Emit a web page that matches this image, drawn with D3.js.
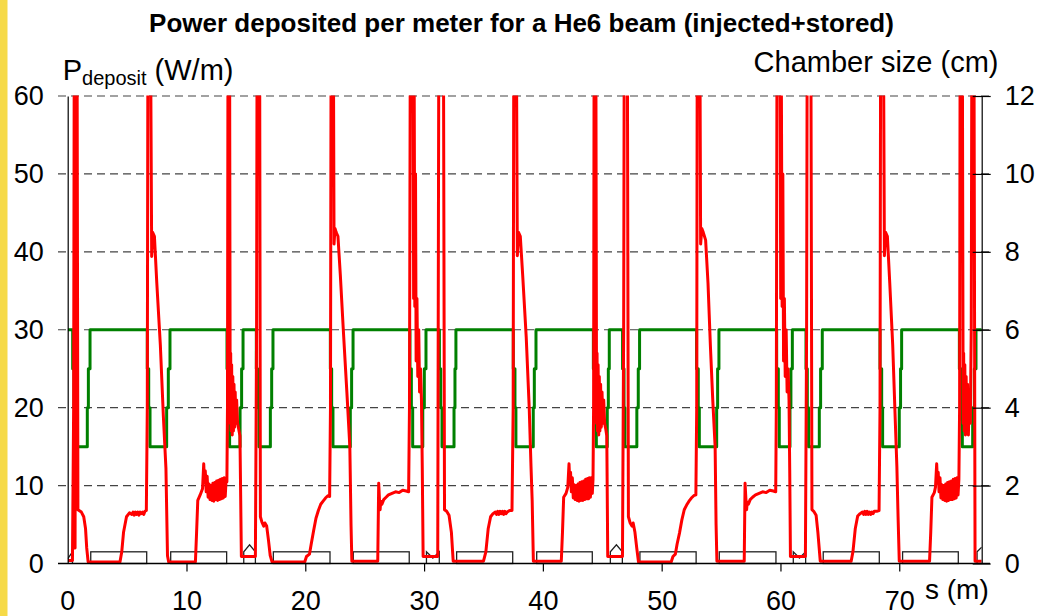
<!DOCTYPE html>
<html>
<head>
<meta charset="utf-8">
<script src="https://cdn.jsdelivr.net/npm/d3@7"></script>
<style>
body { margin: 0; background: #fff; }
svg { display: block; font-family: "Liberation Sans", Arial, sans-serif; }
</style>
</head>
<body>
<script>
// ticks
var xTicks = [0, 10, 20, 30, 40, 50, 60, 70];
var leftTicks = [0, 10, 20, 30, 40, 50, 60];
var rightTicks = [0, 2, 4, 6, 8, 10, 12];

// power deposited (s in m, W/m); >60 is off scale
var powerCell1 = [[0,0.4],[0.4,0.4],[0.5,20],[0.56,75],[0.62,2],[0.7,75],[0.78,75],[0.86,6.9],[1.15,6.6],[1.35,6.0],[1.5,4.5],[1.6,2],[1.72,0.2],
  [4.4,0.2],[4.55,1.5],[4.7,4],[4.95,6.0],[5.2,6.5],[5.4,6.3],[5.5,6.6],[5.6,6.2],[5.7,6.6],[5.8,6.3],[5.9,6.6],[6.0,6.2],[6.1,6.6],[6.2,6.4],[6.3,6.6],[6.4,6.3],[6.5,6.7],[6.62,6.8],
  [6.7,20],[6.76,75],[6.95,75],[7.07,39.4],[7.15,42.5],[7.3,42],[7.5,36],[7.8,28],[8.05,19],[8.27,12.2],[8.4,1],[8.5,0.2],
  [10.75,0.2],[10.85,4],[10.95,8.1],[11.15,8.8],[11.35,9.6],[11.45,12.8],[11.52,10.4],[11.58,11.9],[11.66,9.2],[11.74,11.2],[11.82,8.5],[11.9,10.2],[11.98,8.2],[12.06,10.0],[12.14,8.1],[12.22,10.3],[12.3,8.0],[12.38,10.4],[12.46,8.2],[12.54,10.6],[12.62,8.1],[12.7,10.7],[12.78,8.2],[12.86,10.8],[12.94,8.3],[13.02,10.9],[13.1,8.4],[13.18,11.0],[13.26,8.6],[13.34,10.9],[13.4,10.5],
  [13.45,20],[13.5,75],[13.62,75],[13.68,18],[13.72,27],[13.76,17],[13.8,25.5],[13.85,16.5],[13.9,24],[13.95,17],[14.0,23],[14.05,17.5],[14.1,22],[14.16,18],[14.22,21],[14.3,18],[14.4,17.2],[14.5,16.4],[14.62,0.9],
  [15.8,0.9],[15.9,30],[15.95,75],[16.15,75]];
var powerCell2 = [[16.22,6.0],[16.35,5.3],[16.5,4.8],[16.6,5.2],[16.75,4.8],[16.9,3],[17.05,1],[17.2,0.2],
  [19.95,0.2],[20.1,0.9],[20.35,1.2],[20.5,2.5],[20.7,4.2],[20.9,5.8],[21.1,6.8],[21.3,7.6],[21.5,8.0],[21.7,8.4],[21.9,8.7],[22.05,8.6],
  [22.12,20],[22.18,75],[22.35,75],[22.42,41],[22.5,43],[22.6,42.5],[22.75,42],[22.95,37],[23.2,30],[23.5,22],[23.75,15],[23.85,5],[23.92,0.3],
  [26.1,0.3],[26.18,10.3],[26.25,8],[26.3,6.9],[26.35,8.0],[26.45,7.6],[26.6,8.2],[26.8,8.5],[27.0,8.8],[27.3,9.0],[27.6,9.2],[27.9,9.1],[28.2,9.4],[28.5,9.3],[28.7,9.2],
  [28.77,20],[28.85,75],[29.05,75],[29.12,34],[29.17,60],[29.22,33],[29.28,50],[29.33,26],[29.4,34],[29.47,24],[29.55,30],[29.62,22],[29.7,25],[29.78,21],[29.85,12],[29.92,0.9],
  [31.15,0.9],[31.25,75],[31.62,75]];
var powerCell3 = [[31.72,6.9],[31.9,6.7],[32.1,6.2],[32.3,4],[32.45,0.3],
  [35.0,0.3],[35.2,1.5],[35.4,4.5],[35.6,6.0],[35.8,6.4],[36.0,6.6],[36.1,6.3],[36.2,6.7],[36.3,6.3],[36.4,6.7],[36.5,6.4],[36.6,6.7],[36.7,6.3],[36.8,6.7],[36.9,6.4],[37.0,6.6],[37.2,6.8],[37.4,6.8],
  [37.5,20],[37.56,75],[37.75,75],[37.85,39.5],[37.95,42.5],[38.1,42],[38.3,37],[38.6,29],[38.85,20],[39.0,12.5],[39.1,8],[39.2,0.3],
  [41.55,0.3],[41.65,4],[41.75,8.5],[41.95,9.0],[42.1,9.8],[42.2,12.8],[42.27,10.3],[42.33,11.7],[42.4,9.2],[42.48,11.0],[42.56,8.4],[42.64,10.1],[42.72,8.2],[42.8,10.0],[42.88,8.1],[42.96,10.2],[43.04,8.0],[43.12,10.4],[43.2,8.1],[43.28,10.5],[43.36,8.1],[43.44,10.6],[43.52,8.2],[43.6,10.8],[43.68,8.3],[43.76,10.9],[43.84,8.3],[43.92,11.0],[44.0,8.5],[44.08,11.0],[44.16,9.0],[44.22,10.8],
  [44.27,20],[44.32,75],[44.45,75],[44.52,18],[44.56,27],[44.6,17],[44.65,25.5],[44.7,16.5],[44.75,24],[44.8,17],[44.86,23],[44.92,17.5],[44.98,22],[45.05,18],[45.12,21],[45.2,18],[45.3,17.2],[45.38,16.4],[45.46,0.9],
  [46.7,0.9],[46.8,30],[46.86,75],[47.1,75]];
var powerCell4 = [[47.2,6.0],[47.35,5.2],[47.5,4.8],[47.6,5.2],[47.75,4.0],[47.9,2],[48.05,0.2],
  [50.8,0.2],[50.95,0.9],[51.15,1.2],[51.3,2.5],[51.5,3.9],[51.7,5.6],[51.9,6.9],[52.1,7.5],[52.3,8.0],[52.5,8.4],[52.7,8.7],[52.88,8.8],
  [52.95,20],[53.0,75],[53.2,75],[53.28,41],[53.38,43],[53.5,42.5],[53.7,41.5],[53.9,36],[54.1,28],[54.3,21],[54.5,15],[54.58,5],[54.65,0.3],
  [56.95,0.3],[57.02,10.3],[57.1,8],[57.15,6.9],[57.2,7.9],[57.3,7.6],[57.45,8.2],[57.65,8.5],[57.9,8.8],[58.2,9.0],[58.5,9.2],[58.8,9.1],[59.1,9.4],[59.4,9.3],[59.6,9.2],
  [59.65,20],[59.72,75],[59.95,75],[60.02,34],[60.08,60],[60.14,33],[60.2,50],[60.26,26],[60.33,34],[60.4,24],[60.48,30],[60.56,22],[60.64,25],[60.72,21],[60.78,12],[60.84,0.9],
  [62.1,0.9],[62.2,30],[62.26,75],[62.55,75]];
var powerCell5 = [[62.65,6.9],[62.8,6.7],[63.0,6.2],[63.15,4],[63.35,0.3],
  [65.95,0.3],[66.1,1.5],[66.3,4.5],[66.5,6.1],[66.7,6.4],[66.9,6.6],[67.0,6.3],[67.1,6.7],[67.2,6.3],[67.3,6.7],[67.4,6.3],[67.5,6.6],[67.6,6.3],[67.7,6.6],[67.8,6.4],[67.9,6.7],[68.1,6.7],[68.3,6.8],
  [68.38,20],[68.44,75],[68.65,75],[68.75,39.5],[68.85,42.5],[69.0,42],[69.2,36],[69.45,28],[69.65,19],[69.8,12.4],[69.9,6],[70.0,0.3],
  [72.55,0.3],[72.65,4],[72.75,8.5],[72.95,9.1],[73.05,9.8],[73.15,12.8],[73.22,10.3],[73.28,11.7],[73.35,9.2],[73.43,11.0],[73.51,8.4],[73.59,10.1],[73.67,8.2],[73.75,10.0],[73.83,8.1],[73.91,10.2],[73.99,8.0],[74.07,10.4],[74.15,8.1],[74.23,10.5],[74.31,8.2],[74.39,10.6],[74.47,8.2],[74.55,10.8],[74.63,8.3],[74.71,10.9],[74.79,8.4],[74.87,11.0],[74.95,8.8],[75.02,10.8],
  [75.08,20],[75.13,75],[75.3,75],[75.38,18],[75.42,27],[75.47,17],[75.52,25.5],[75.57,16.5],[75.63,24],[75.69,17],[75.75,23],[75.82,16.5],[75.9,22],[75.98,18],[76.06,30],[76.12,75],[76.28,75],[76.38,0.3],[76.94,0.3]];

// chamber size taper positions (m): 6->5, 5->4, 4->3 cm, then 3->4, 4->5, 5->6 cm
var taperDown1 = [0.42, 6.70, 13.41, 15.88, 22.11, 28.81, 31.29, 37.51, 44.25, 46.71, 52.94, 59.68, 62.15, 68.38, 75.06];
var taperDown2 = [0.53, 6.82, 13.52, 15.99, 22.22, 28.93, 31.40, 37.65, 44.39, 46.83, 53.08, 59.82, 62.26, 68.52, 75.20];
var taperDown3 = [0.67, 6.93, 13.63, 16.10, 22.33, 29.04, 31.51, 37.73, 44.50, 46.91, 53.17, 59.90, 62.37, 68.60, 75.31];
var taperUp1 = [1.65, 8.33, 14.51, 17.06, 23.79, 29.89, 32.52, 39.19, 45.42, 47.91, 54.63, 60.80, 63.27, 70.00, 76.18];
var taperUp2 = [1.74, 8.47, 14.64, 17.17, 23.90, 30.02, 32.60, 39.28, 45.51, 48.03, 54.71, 60.88, 63.38, 70.11, 76.32];
var taperUp3 = [1.88, 8.61, 14.76, 17.28, 24.02, 30.16, 32.68, 39.42, 45.59, 48.14, 54.82, 61.00, 63.52, 70.20, 76.46];
var ringEnd = 76.94;

// lattice outline at the bottom (m)
var dipoleStart = [1.94, 8.67, 17.31, 24.04, 32.74, 39.48, 48.17, 54.85, 63.60, 70.28];
var dipoleEnd = [6.65, 13.38, 22.08, 28.75, 37.46, 44.16, 52.90, 59.62, 68.32, 74.97];
var houseStart = [14.82, 45.68], housePeak = [15.31, 46.19], houseEnd = [15.80, 46.69];
var notchStart = [30.20, 61.08], notchMid = [30.74, 61.60], notchEnd = [31.28, 62.12];
var edgeLeft = [[0, 0.6], [0.4, 1.5], [0.4, 0]];
var edgeRight = [[76.55, 0], [76.55, 1.5], [76.94, 2.1]];

var W = 1040, H = 616;
var svg = d3.select("body").append("svg").attr("width", W).attr("height", H);
svg.append("rect").attr("width", W).attr("height", H).attr("fill", "#fff");
svg.append("rect").attr("width", 7.5).attr("height", H).attr("fill", "#f6da48"); // yellow strip at left

var x = d3.scaleLinear().domain([0, ringEnd]).range([67.7, 981.7]);
var yL = d3.scaleLinear().domain([0, 60]).range([563.5, 96]);
var yR = d3.scaleLinear().domain([0, 12]).range([563.5, 96]);

svg.append("defs").append("clipPath").attr("id", "clip")
  .append("rect").attr("x", 67.7).attr("y", 95.5).attr("width", 914).attr("height", 470);

// dashed grid
svg.append("g").selectAll("line").data(leftTicks.slice(1)).enter().append("line")
  .attr("x1", 58).attr("x2", 990)
  .attr("y1", function(d) { return yL(d); }).attr("y2", function(d) { return yL(d); })
  .attr("stroke", "#444").attr("stroke-width", 1.2).attr("stroke-dasharray", "8,5");

var plot = svg.append("g").attr("clip-path", "url(#clip)");
var line = d3.line().x(function(d) { return x(d[0]); }).y(function(d) { return yL(d[1]); });

// magnets
var boxes = plot.append("g").attr("fill", "none").attr("stroke", "#222").attr("stroke-width", 1.3);
boxes.selectAll("rect").data(dipoleStart).enter().append("rect")
  .attr("x", function(d) { return x(d); })
  .attr("y", yL(1.5))
  .attr("width", function(d, i) { return x(dipoleEnd[i]) - x(d); })
  .attr("height", yL(0) - yL(1.5));
houseStart.forEach(function(s, i) {
  boxes.append("path").attr("d", line([[s, 0], [s, 1.5], [housePeak[i], 2.4], [houseEnd[i], 1.5], [houseEnd[i], 0]]));
});
notchStart.forEach(function(s, i) {
  boxes.append("path").attr("d", line([[s, 0], [s, 1.5], [notchMid[i], 0.7], [notchEnd[i], 1.5], [notchEnd[i], 0]]));
});
boxes.append("path").attr("d", line(edgeLeft));
boxes.append("path").attr("d", line(edgeRight));

// chamber size (right axis)
var chamber = [[0, 6]];
taperDown1.forEach(function(s, i) {
  chamber.push([s, 6], [s, 5], [taperDown2[i], 5], [taperDown2[i], 4], [taperDown3[i], 4], [taperDown3[i], 3],
    [taperUp1[i], 3], [taperUp1[i], 4], [taperUp2[i], 4], [taperUp2[i], 5], [taperUp3[i], 5], [taperUp3[i], 6]);
});
chamber.push([ringEnd, 6]);
plot.append("path").datum(chamber)
  .attr("d", d3.line().x(function(d) { return x(d[0]); }).y(function(d) { return yR(d[1]); }))
  .attr("fill", "none").attr("stroke", "#008000").attr("stroke-width", 3).attr("stroke-linejoin", "round");

// power deposited
var power = powerCell1.concat(powerCell2, powerCell3, powerCell4, powerCell5);
plot.append("path").datum(power).attr("d", line)
  .attr("fill", "none").attr("stroke", "#ff0000").attr("stroke-width", 3).attr("stroke-linejoin", "round");

// axes
var fs = 27;
var axL = svg.append("g").attr("transform", "translate(67.7,0)")
  .call(d3.axisLeft(yL).tickValues(leftTicks).tickSize(0).tickSizeOuter(0).tickPadding(24));
var axR = svg.append("g").attr("transform", "translate(981.7,0)")
  .call(d3.axisRight(yR).tickValues(rightTicks).tickSize(9).tickSizeOuter(0).tickPadding(14));
axR.selectAll(".tick line").attr("x1", -9);
var axB = svg.append("g").attr("transform", "translate(0,563.5)")
  .call(d3.axisBottom(x).tickValues(xTicks.slice(1)).tickSize(8).tickSizeOuter(0).tickPadding(19));
// the 0 label sits under the left axis
axB.append("text").attr("x", x(0)).attr("y", 27).attr("dy", "0.71em").attr("text-anchor", "middle").text("0");
[axL, axR, axB].forEach(function(a) {
  a.select(".domain").attr("stroke", "#000").attr("stroke-width", 1.2);
  a.selectAll(".tick line").attr("stroke", "#000").attr("stroke-width", 1.2);
  a.selectAll("text").attr("fill", "#000").style("font-size", fs + "px").style("font-family", "Liberation Sans, Arial, sans-serif");
});
axB.select(".domain").remove();
svg.append("line").attr("x1", 58).attr("x2", 990).attr("y1", 563.5).attr("y2", 563.5)
  .attr("stroke", "#000").attr("stroke-width", 1.3);

// titles
svg.append("text").attr("x", 521.5).attr("y", 32).attr("text-anchor", "middle")
  .style("font-size", "26px").style("font-weight", "bold")
  .text("Power deposited per meter for a He6 beam (injected+stored)");
var pl = svg.append("text").attr("x", 62.7).attr("y", 80).style("font-size", "29px");
pl.append("tspan").text("P");
pl.append("tspan").attr("dy", 5).style("font-size", "20px").text("deposit");
pl.append("tspan").attr("dy", -5).text(" (W/m)");
svg.append("text").attr("x", 998.5).attr("y", 72).attr("text-anchor", "end")
  .style("font-size", "29px").text("Chamber size (cm)");
svg.append("text").attr("x", 925).attr("y", 599).style("font-size", "28px").text("s (m)");
</script>
</body>
</html>
